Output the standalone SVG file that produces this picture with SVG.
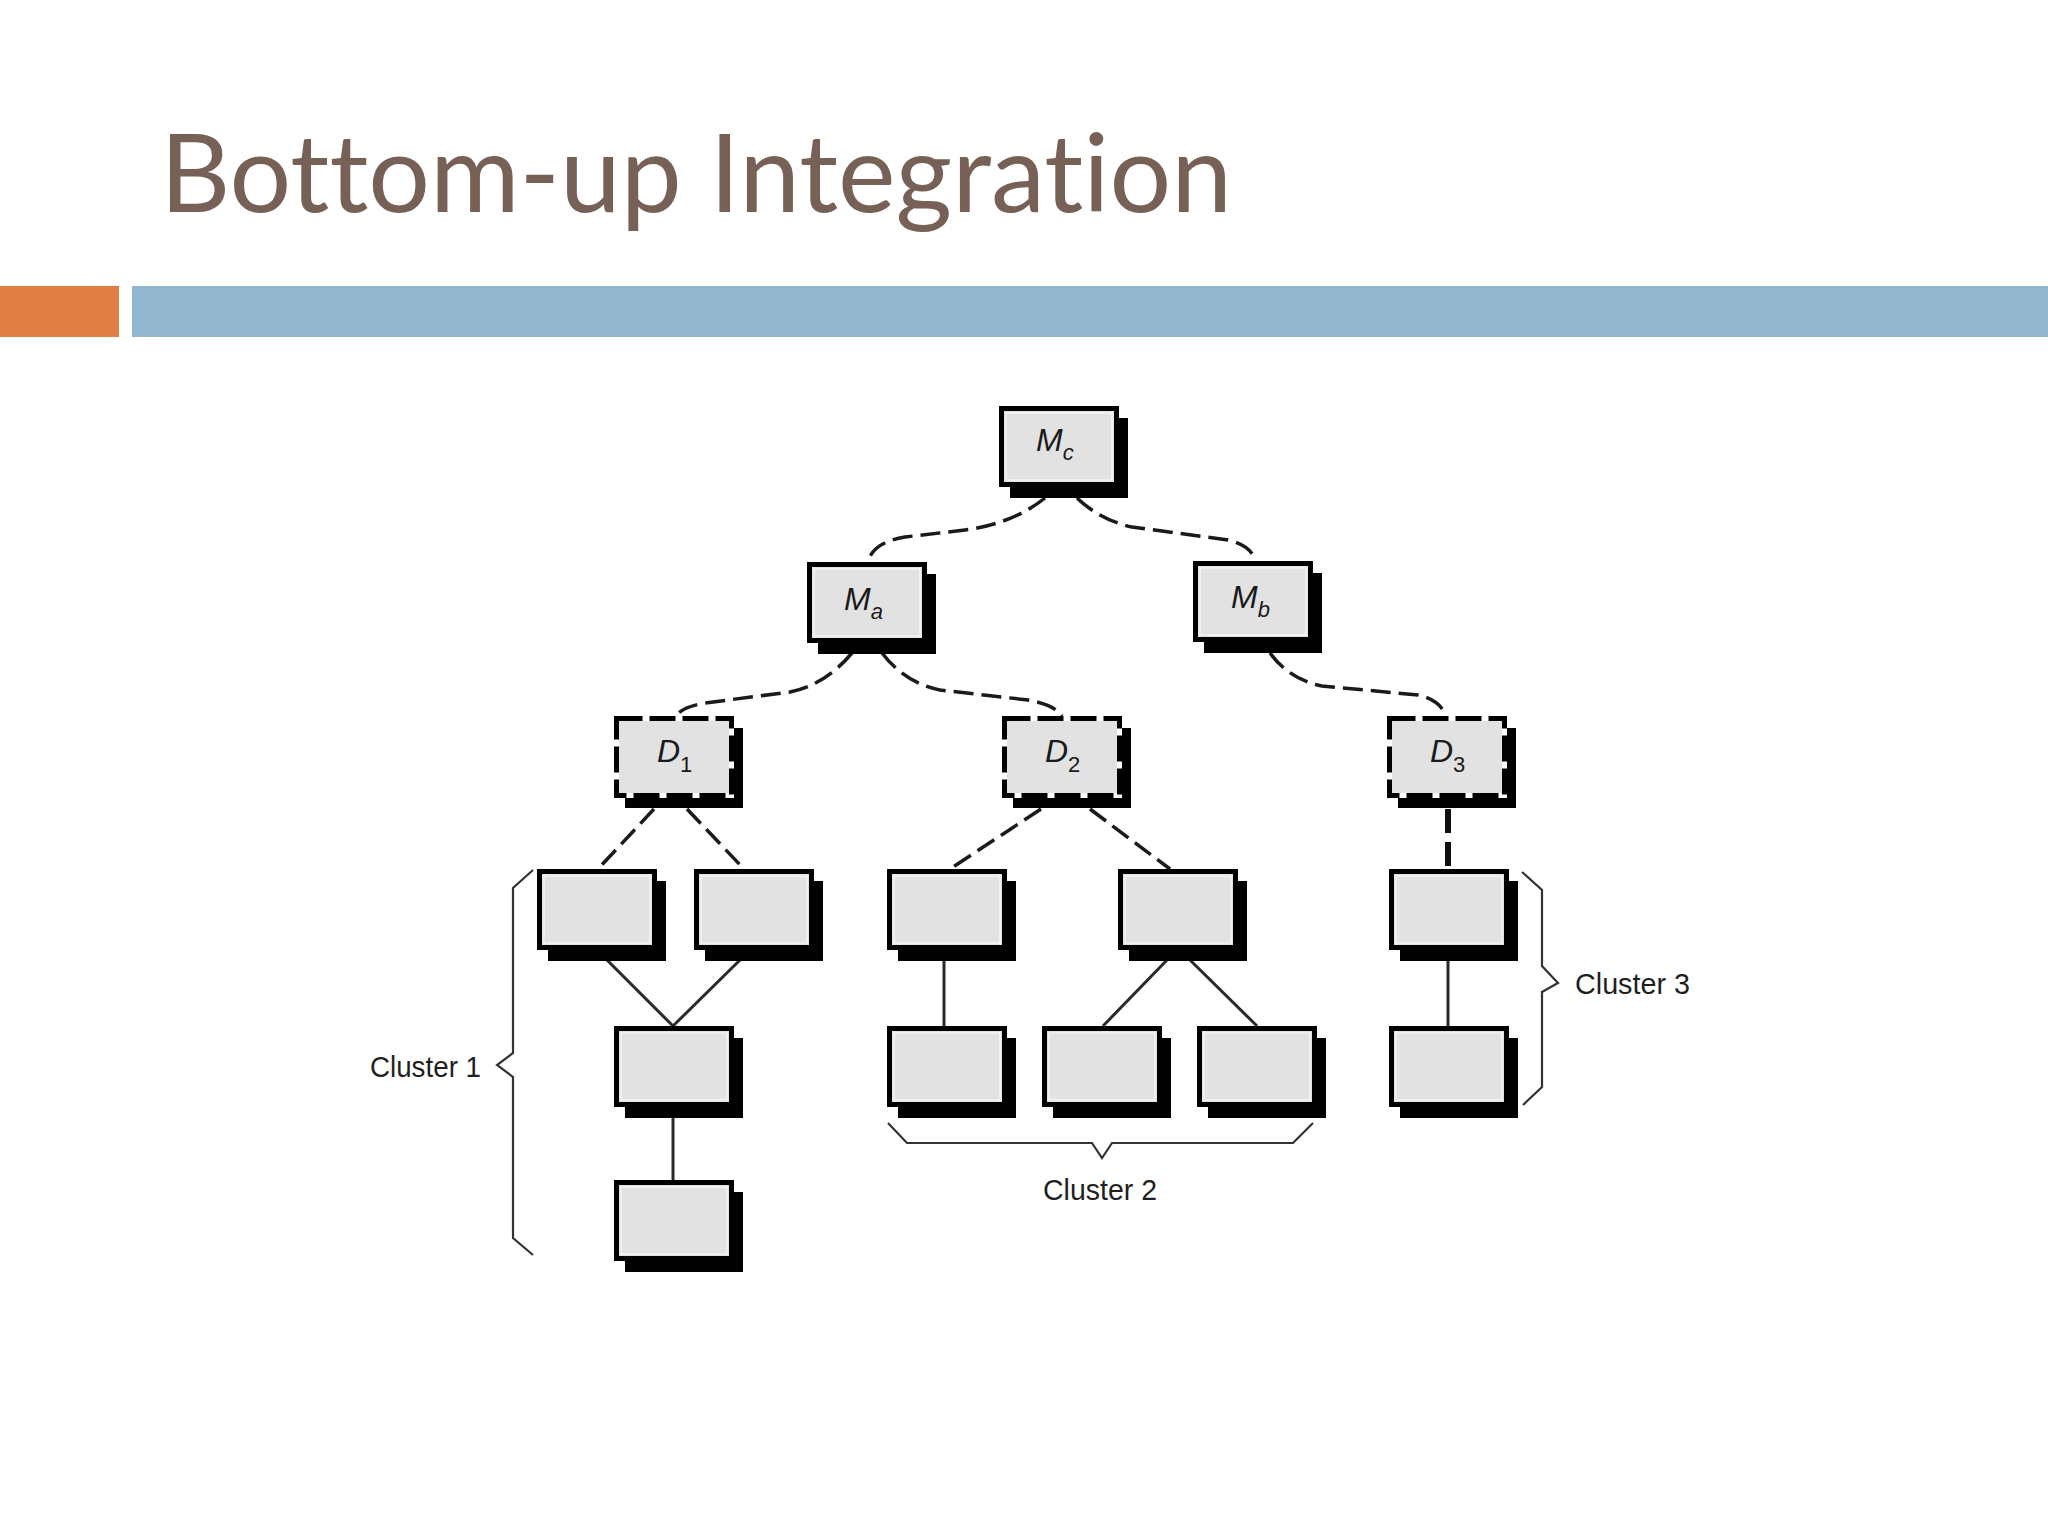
<svg xmlns="http://www.w3.org/2000/svg" width="2048" height="1536" viewBox="0 0 2048 1536">
<style>
.sh{fill:#000}
.bx{fill:#e2e2e2;stroke:#000;stroke-width:5}
.in{fill:none;stroke:#f4f4f4;stroke-width:1.5}
.dbx{fill:#e2e2e2;stroke:#fff;stroke-width:5}
.dsh{fill:none;stroke:#000;stroke-width:5;stroke-dasharray:26 7}
.lbl{font-family:"Liberation Sans",Arial,sans-serif;font-style:italic;font-size:32px;fill:#1a1a1a}
.sub{font-size:22px}
.dsub{font-style:normal}
.dash{fill:none;stroke:#1a1a1a;stroke-width:3.5;stroke-dasharray:20 8}
.solid{fill:none;stroke:#2a2a2a;stroke-width:3}
.brace{fill:none;stroke:#333;stroke-width:2.2}
.cl{font-family:"Liberation Sans",Arial,sans-serif;font-size:30px;fill:#1f1f1f}
</style>
<defs>
<g id="box">
<rect class="sh" x="11" y="12" width="118" height="80"/>
<rect class="bx" x="2.5" y="2.5" width="115" height="76"/>
<rect class="in" x="7" y="7" width="106" height="67"/>
</g>
<g id="dbox">
<rect class="sh" x="11" y="12" width="118" height="80"/>
<rect class="dbx" x="2.5" y="2.5" width="115" height="77"/>
<rect class="dsh" x="2.5" y="2.5" width="115" height="77"/>
</g>
</defs>
<rect width="2048" height="1536" fill="#fff"/>
<g id="header">
<text x="160" y="212" font-family="Lato,'Open Sans',sans-serif" font-size="108" fill="#776157" style="font-variant-ligatures:none;font-feature-settings:'liga' 0" textLength="1072" lengthAdjust="spacingAndGlyphs">Bottom-up Integration</text>
<rect x="0" y="286" width="119" height="51" fill="#DF7F46"/>
<rect x="132" y="286" width="1916" height="51" fill="#93B6CF"/>
</g>
<g id="connectors">
<path class="dash" d="M1045,498 Q1012,524 965,530 L905,537 Q874,542 868,561"/>
<path class="dash" d="M1077,498 Q1100,520 1132,527 L1228,540 Q1252,546 1255,561"/>
<path class="dash" d="M852,653 Q825,685 790,692 L705,703 Q682,707 676,716"/>
<path class="dash" d="M882,653 Q905,683 940,690 L1028,700 Q1055,705 1062,716"/>
<path class="dash" d="M1270,653 Q1290,680 1322,686 L1418,695 Q1440,700 1446,716"/>
<path class="dash" d="M654,809 L598,869"/>
<path class="dash" d="M687,809 L744,869"/>
<path class="dash" d="M1041,809 L950,869"/>
<path class="dash" d="M1090,809 L1170,869"/>
<path fill="none" stroke="#111" stroke-width="6" stroke-dasharray="24 9" d="M1448,809 L1448,869"/>
<path class="solid" d="M607,960 L673,1026 L740,960"/>
<path class="solid" d="M673,1118 L673,1180"/>
<path class="solid" stroke="#555" d="M944,960 L944,1026"/>
<path class="solid" d="M1167,960 L1103,1026"/>
<path class="solid" d="M1190,960 L1257,1026"/>
<path class="solid" d="M1448,960 L1448,1026"/>
</g>
<g id="braces">
<path class="brace" d="M533,870 L513,888 L513,1053 L497,1065 L513,1077 L513,1238 L533,1255"/>
<path class="brace" d="M888,1123 L907,1143 L1092,1143 L1102,1158 L1112,1143 L1293,1143 L1313,1123"/>
<path class="brace" d="M1522,872 L1542,890 L1542,966 L1558,983 L1542,992 L1542,1087 L1523,1105"/>
<text class="cl" x="370" y="1077" textLength="111" lengthAdjust="spacingAndGlyphs">Cluster 1</text>
<text class="cl" x="1043" y="1200" textLength="114" lengthAdjust="spacingAndGlyphs">Cluster 2</text>
<text class="cl" x="1575" y="994" textLength="115" lengthAdjust="spacingAndGlyphs">Cluster 3</text>
</g>
<g id="Mc" transform="translate(999,406)"><use href="#box"/><text class="lbl" x="37" y="45">M<tspan class="sub" dy="9">c</tspan></text></g>
<g id="Ma" transform="translate(807,562)"><use href="#box"/><text class="lbl" x="37" y="48">M<tspan class="sub" dy="9">a</tspan></text></g>
<g id="Mb" transform="translate(1193,561)"><use href="#box"/><text class="lbl" x="38" y="47">M<tspan class="sub" dy="9">b</tspan></text></g>
<g id="D1" transform="translate(614,716)"><use href="#dbox"/><text class="lbl" x="43" y="46">D<tspan class="sub dsub" dy="10">1</tspan></text></g>
<g id="D2" transform="translate(1002,716)"><use href="#dbox"/><text class="lbl" x="43" y="46">D<tspan class="sub dsub" dy="10">2</tspan></text></g>
<g id="D3" transform="translate(1387,716)"><use href="#dbox"/><text class="lbl" x="43" y="46">D<tspan class="sub dsub" dy="10">3</tspan></text></g>
<g id="C1a" transform="translate(537,869)"><use href="#box"/></g>
<g id="C1b" transform="translate(694,869)"><use href="#box"/></g>
<g id="C1c" transform="translate(614,1026)"><use href="#box"/></g>
<g id="C1d" transform="translate(614,1180)"><use href="#box"/></g>
<g id="C2a" transform="translate(887,869)"><use href="#box"/></g>
<g id="C2b" transform="translate(1118,869)"><use href="#box"/></g>
<g id="C2c" transform="translate(887,1026)"><use href="#box"/></g>
<g id="C2d" transform="translate(1042,1026)"><use href="#box"/></g>
<g id="C2e" transform="translate(1197,1026)"><use href="#box"/></g>
<g id="C3a" transform="translate(1389,869)"><use href="#box"/></g>
<g id="C3b" transform="translate(1389,1026)"><use href="#box"/></g>
</svg>
